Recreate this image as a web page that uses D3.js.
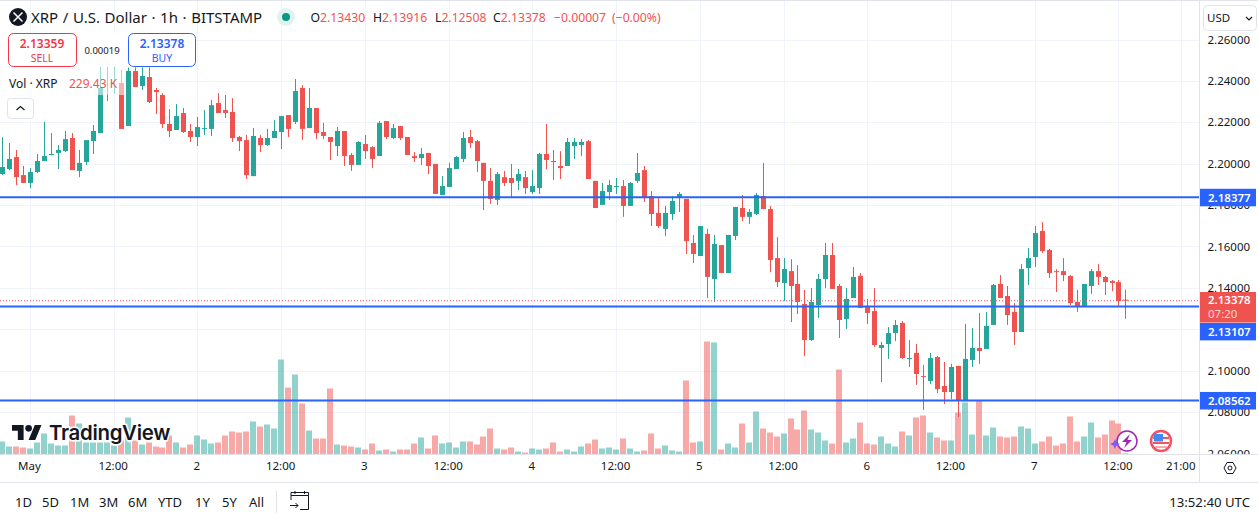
<!DOCTYPE html>
<html>
<head>
<meta charset="utf-8">
<script src="https://cdn.jsdelivr.net/npm/d3@7"></script>
<style>
  html, body { margin: 0; padding: 0; background: #fff; overflow: hidden; }
  text { font-family: "Noto Sans", sans-serif; }
</style>
</head>
<body>
<script>
// hourly candles, first one is Apr 30 20:00, last is May 7 13:00
var opens = [
  2.1950,2.1974,2.2032,2.1945,2.1907,2.1960,2.2013,2.2042,2.2052,2.2061,
  2.2124,2.1965,2.2008,2.2109,2.2148,2.2491,2.2501,2.2390,2.2182,2.2448,
  2.2375,2.2419,2.2356,2.2332,2.2192,2.2163,2.2245,2.2158,2.2129,2.2168,
  2.2168,2.2293,2.2259,2.2250,2.2129,2.2114,2.1940,2.2124,2.2090,2.2124,
  2.2153,2.2235,2.2202,2.2366,2.2172,2.2269,2.2153,2.2129,2.2085,2.2158,
  2.2042,2.1994,2.2095,2.2080,2.2037,2.2206,2.2124,2.2182,2.2129,2.2037,
  2.2027,2.2052,2.1999,2.1849,2.1887,2.1974,2.2023,2.2129,2.2109,2.2004,
  2.1917,2.1825,2.1935,2.1931,2.1917,2.1935,2.1863,2.1882,2.2047,2.2013,
  2.1989,2.1989,2.2085,2.2090,2.2109,2.1917,2.1801,2.1863,2.1887,2.1892,
  2.1796,2.1917,2.1969,2.1844,2.1762,2.1685,2.1757,2.1839,2.1830,2.1617,
  2.1554,2.1661,2.1443,2.1607,2.1472,2.1651,2.1786,2.1743,2.1757,2.1844,
  2.1781,2.1544,2.1424,2.1481,2.1419,2.1322,2.1148,2.1317,2.1443,2.1559,
  2.1409,2.1250,2.1351,2.1458,2.1313,2.1288,2.1110,2.1129,2.1182,2.1231,
  2.1056,2.1086,2.0974,2.0950,2.1066,2.0926,2.0897,2.1023,2.0853,2.1052,
  2.1110,2.1105,2.1221,2.1419,2.1361,2.1284,2.1187,2.1496,2.1549,2.1675,
  2.1583,2.1481,2.1481,2.1458,2.1332,2.1313,2.1409,2.1481,2.1453,2.1433,
  2.1428,2.13430
];
var highs = [
  2.2128,2.2100,2.2066,2.1989,2.1979,2.2047,2.2202,2.2148,2.2090,2.2158,
  2.2148,2.2066,2.2114,2.2187,2.2525,2.2573,2.2573,2.2453,2.2472,2.2467,
  2.2467,2.2467,2.2366,2.2341,2.2264,2.2288,2.2269,2.2192,2.2226,2.2259,
  2.2308,2.2341,2.2332,2.2317,2.2134,2.2139,2.2172,2.2139,2.2168,2.2211,
  2.2230,2.2235,2.2409,2.2380,2.2366,2.2269,2.2197,2.2129,2.2177,2.2158,
  2.2052,2.2109,2.2139,2.2085,2.2206,2.2206,2.2192,2.2182,2.2129,2.2056,
  2.2076,2.2052,2.1999,2.1940,2.2004,2.2037,2.2153,2.2163,2.2114,2.2004,
  2.1979,2.1960,2.1965,2.1999,2.1974,2.1965,2.1969,2.2052,2.2192,2.2066,
  2.2061,2.2124,2.2124,2.2119,2.2114,2.1917,2.1907,2.1921,2.1931,2.1921,
  2.1911,2.2052,2.1989,2.1868,2.1839,2.1796,2.1844,2.1863,2.1830,2.1655,
  2.1699,2.1685,2.1656,2.1607,2.1656,2.1791,2.1849,2.1781,2.1858,2.2004,
  2.1796,2.1645,2.1544,2.1539,2.1510,2.1390,2.1399,2.1467,2.1617,2.1617,
  2.1419,2.1399,2.1501,2.1472,2.1347,2.1399,2.1139,2.1211,2.1245,2.1240,
  2.1148,2.1129,2.1028,2.1086,2.1071,2.1042,2.1033,2.1023,2.1226,2.1206,
  2.1279,2.1284,2.1419,2.1462,2.1409,2.1327,2.1515,2.1593,2.1699,2.1718,
  2.1588,2.1491,2.1544,2.1462,2.1390,2.1419,2.1491,2.1515,2.1458,2.1438,
  2.1438,2.13916
];
var lows = [
  2.1945,2.1969,2.1897,2.1907,2.1882,2.1955,2.2013,2.2042,2.1974,2.2056,
  2.1969,2.1935,2.1994,2.2047,2.2148,2.2303,2.2337,2.2168,2.2182,2.2370,
  2.2356,2.2293,2.2240,2.2172,2.2129,2.2163,2.2148,2.2105,2.2085,2.2139,
  2.2134,2.2245,2.2221,2.2105,2.2061,2.1926,2.1940,2.2056,2.2085,2.2124,
  2.2071,2.2129,2.2192,2.2114,2.2172,2.2119,2.2119,2.2018,2.2037,2.1989,
  2.1965,2.1994,2.2023,2.1979,2.2037,2.2119,2.2119,2.2114,2.2042,2.2008,
  2.1994,2.1950,2.1854,2.1849,2.1887,2.1974,2.2008,2.2076,2.1960,2.1776,
  2.1806,2.1801,2.1892,2.1839,2.1873,2.1854,2.1854,2.1854,2.1974,2.1921,
  2.1926,2.1989,2.2023,2.2037,2.1926,2.1786,2.1801,2.1825,2.1854,2.1743,
  2.1796,2.1907,2.1815,2.1699,2.1690,2.1651,2.1728,2.1767,2.1564,2.1520,
  2.1554,2.1351,2.1332,2.1472,2.1472,2.1631,2.1723,2.1709,2.1752,2.1781,
  2.1476,2.1404,2.1337,2.1235,2.1274,2.1071,2.1143,2.1255,2.1399,2.1395,
  2.1158,2.1202,2.1351,2.1303,2.1226,2.1115,2.0945,2.1057,2.1143,2.1057,
  2.1018,2.0931,2.0810,2.0936,2.0892,2.0839,2.0863,2.0776,2.0853,2.1018,
  2.1033,2.1105,2.1221,2.1351,2.1221,2.1124,2.1187,2.1414,2.1501,2.1569,
  2.1448,2.1380,2.1433,2.1317,2.1284,2.1308,2.1371,2.1414,2.1366,2.1385,
  2.1313,2.12508
];
var closes = [
  2.1984,2.2023,2.1935,2.1907,2.1960,2.2013,2.2037,2.2047,2.2066,2.2119,
  2.1969,2.2004,2.2114,2.2158,2.2366,2.2549,2.2549,2.2168,2.2448,2.2370,
  2.2424,2.2298,2.2346,2.2192,2.2158,2.2230,2.2153,2.2129,2.2177,2.2172,
  2.2283,2.2245,2.2245,2.2124,2.2109,2.1945,2.2134,2.2090,2.2124,2.2158,
  2.2230,2.2168,2.2351,2.2168,2.2269,2.2148,2.2134,2.2105,2.2158,2.2037,
  2.1994,2.2105,2.2061,2.2023,2.2197,2.2129,2.2172,2.2124,2.2042,2.2027,
  2.2047,2.1989,2.1854,2.1892,2.1979,2.2032,2.2124,2.2100,2.2013,2.1917,
  2.1830,2.1950,2.1907,2.1907,2.1950,2.1882,2.1892,2.2047,2.2018,2.2008,
  2.1979,2.2105,2.2105,2.2105,2.1926,2.1786,2.1868,2.1897,2.1892,2.1796,
  2.1907,2.1955,2.1834,2.1757,2.1699,2.1762,2.1820,2.1854,2.1626,2.1564,
  2.1699,2.1453,2.1612,2.1472,2.1656,2.1791,2.1743,2.1767,2.1849,2.1781,
  2.1535,2.1428,2.1491,2.1409,2.1332,2.1148,2.1332,2.1443,2.1559,2.1395,
  2.1245,2.1347,2.1453,2.1303,2.1279,2.1124,2.1124,2.1182,2.1221,2.1061,
  2.1061,2.0984,2.0970,2.1061,2.0911,2.0897,2.1018,2.0858,2.1057,2.1110,
  2.1095,2.1216,2.1414,2.1351,2.1269,2.1187,2.1491,2.1544,2.1665,2.1578,
  2.1472,2.1477,2.1462,2.1327,2.1313,2.1419,2.1481,2.1453,2.1428,2.1424,
  2.1337,2.13378
];
// volume in millions of XRP
var volumes = [
  2.6,1.6,1.6,1.4,1.2,2.4,4.2,2.2,1.8,1.8,
  7.8,6.2,2.4,2.4,2.4,2.4,1.8,2.8,7.4,2.8,
  2.0,2.4,1.6,1.4,3.8,2.4,1.4,2.0,3.8,3.0,
  2.2,2.4,3.8,4.6,4.4,4.6,6.6,5.6,6.0,5.2,
  19.0,13.4,16.0,10.2,4.8,3.2,3.2,13.2,2.0,1.8,
  1.6,1.4,1.0,2.2,0.8,1.0,0.6,1.0,1.0,2.2,
  3.4,1.2,3.8,2.2,2.4,1.4,2.6,2.6,2.0,3.6,
  5.2,1.2,1.0,1.4,0.6,0.4,1.2,1.0,1.2,2.4,
  0.6,1.0,0.6,1.6,2.2,3.0,1.2,1.4,1.0,3.2,
  1.2,0.6,0.8,4.2,1.2,1.8,0.8,0.6,14.8,2.4,
  2.6,22.6,22.4,1.0,2.2,1.4,6.2,2.4,8.6,5.2,
  4.4,3.6,4.2,7.2,5.0,8.8,5.0,4.4,2.8,2.2,
  17.0,2.4,3.2,6.4,2.2,2.0,3.6,2.2,1.6,4.6,
  3.8,7.4,7.8,4.4,3.4,2.8,2.8,8.4,10.4,4.0,
  10.8,3.8,5.4,3.6,3.4,3.6,5.6,5.2,2.2,2.6,
  3.6,1.8,2.2,7.6,2.6,3.6,6.4,3.4,4.0,6.8,
  6.2,0.22943
];

var priceTicks = [2.26, 2.24, 2.22, 2.20, 2.18, 2.16, 2.14, 2.12, 2.10, 2.08, 2.06];
var levelLines = [2.18377, 2.13107, 2.08562];
var lastPrice = 2.13378;

// hours counted from the first candle
var timeTickHours = [4, 16, 28, 40, 52, 64, 76, 88, 100, 112, 124, 136, 148, 160, 169];
var timeTickLabels = ["May", "12:00", "2", "12:00", "3", "12:00", "4", "12:00", "5", "12:00", "6", "12:00", "7", "12:00", "21:00"];
var rangeButtons = ["1D", "5D", "1M", "3M", "6M", "YTD", "1Y", "5Y", "All"];
var rangeButtonX = [15, 42, 70, 99, 128, 158, 195, 222, 249];

var svgWidth = 1258;
var svgHeight = 517;
var paneRight = 1199;
var paneBottom = 454.5;

var upColor = "#26a69a";
var downColor = "#ef5350";
var blue = "#2962ff";
var gridColor = "#f0f3fa";
var borderColor = "#e0e3eb";
var textColor = "#131722";

var candles = opens.map(function(o, i) {
  return { i: i, open: o, high: highs[i], low: lows[i], close: closes[i], volume: volumes[i] };
});

var xScale = d3.scaleLinear().domain([0, 161]).range([2, 2 + 161 * 6.978]);
var yScale = d3.scaleLinear().domain([2.26, 2.06]).range([39.5, 453.5]);
var volScale = d3.scaleLinear().domain([0, 20]).range([paneBottom, paneBottom - 100]);

var svg = d3.select("body").append("svg")
  .attr("width", svgWidth)
  .attr("height", svgHeight)
  .style("display", "block");

svg.append("defs").append("clipPath").attr("id", "pane")
  .append("rect").attr("width", paneRight).attr("height", paneBottom);

var pane = svg.append("g").attr("clip-path", "url(#pane)");

// grid
pane.selectAll(".hgrid").data(priceTicks).enter().append("line")
  .attr("x1", 0).attr("x2", paneRight)
  .attr("y1", d => Math.round(yScale(d)) + 0.5).attr("y2", d => Math.round(yScale(d)) + 0.5)
  .attr("stroke", gridColor);
pane.selectAll(".vgrid").data(timeTickHours).enter().append("line")
  .attr("y1", 0).attr("y2", paneBottom)
  .attr("x1", d => Math.round(xScale(d)) + 0.5).attr("x2", d => Math.round(xScale(d)) + 0.5)
  .attr("stroke", gridColor);

// volume
pane.selectAll(".vol").data(candles).enter().append("rect")
  .attr("x", d => Math.round(xScale(d.i)) - 3)
  .attr("width", 6)
  .attr("y", d => volScale(d.volume))
  .attr("height", d => volScale(0) - volScale(d.volume))
  .attr("fill", d => d.close >= d.open ? upColor : downColor)
  .attr("fill-opacity", 0.5);

// candles
pane.selectAll(".wick").data(candles).enter().append("line")
  .attr("x1", d => Math.round(xScale(d.i)) + 0.5).attr("x2", d => Math.round(xScale(d.i)) + 0.5)
  .attr("y1", d => yScale(d.high)).attr("y2", d => yScale(d.low))
  .attr("stroke", d => d.close >= d.open ? upColor : downColor);
pane.selectAll(".body").data(candles).enter().append("rect")
  .attr("x", d => Math.round(xScale(d.i)) - 2)
  .attr("width", 5)
  .attr("y", d => yScale(Math.max(d.open, d.close)))
  .attr("height", d => Math.max(1, Math.abs(yScale(d.open) - yScale(d.close))))
  .attr("fill", d => d.close >= d.open ? upColor : downColor);

// horizontal levels and last price
pane.append("line")
  .attr("x1", 0).attr("x2", paneRight)
  .attr("y1", yScale(lastPrice)).attr("y2", yScale(lastPrice))
  .attr("stroke", downColor).attr("stroke-dasharray", "1 2");
pane.selectAll(".level").data(levelLines).enter().append("line")
  .attr("x1", 0).attr("x2", paneRight)
  .attr("y1", d => yScale(d)).attr("y2", d => yScale(d))
  .attr("stroke", blue).attr("stroke-width", 2);

// watermark
var mark = pane.append("g");
mark.append("path")
  .attr("transform", "translate(12,421.7) scale(0.83)")
  .attr("d", "M14 22H7V11H0V4h14v18zM28 22h-8l7.5-18h8L28 22z")
  .attr("fill", textColor);
mark.append("circle")
  .attr("transform", "translate(12,421.7) scale(0.83)")
  .attr("cx", 20).attr("cy", 8).attr("r", 4)
  .attr("fill", textColor);
mark.append("text")
  .attr("x", 49).attr("y", 440)
  .attr("font-size", 20.4).attr("font-weight", 600)
  .style("font-family", "Inter")
  .attr("letter-spacing", -0.3)
  .attr("fill", textColor)
  .attr("stroke", "#fff").attr("stroke-width", 3).attr("paint-order", "stroke")
  .text("TradingView");

// event icons
var bolt = pane.append("g").attr("transform", "translate(1127,441)");
bolt.append("circle").attr("r", 10).attr("fill", "#fff").attr("stroke", "#9c27b0").attr("stroke-width", 1.5);
bolt.append("path").attr("d", "M3 -7L-5 1H-0.5L-3 7L5 -1H0.5Z").attr("fill", "#9c27b0");
bolt.append("path").attr("d", "M-12 -2L-10.5 1.5L-7 3L-10.5 4.5L-12 8L-13.5 4.5L-17 3L-13.5 1.5Z").attr("fill", "#7b5cff");

var flag = pane.append("g").attr("transform", "translate(1161,441)");
flag.append("circle").attr("r", 10).attr("fill", "#fff").attr("stroke", "#f7525f").attr("stroke-width", 2.5);
flag.append("path").attr("d", "M-8 -4H8V-2H-8ZM-8 1H8V3H-8ZM-6 5.5H6V6.5H-6Z").attr("fill", "#f7525f");
flag.append("rect").attr("x", -7).attr("y", -7).attr("width", 9).attr("height", 7.5).attr("fill", "#3d8bf0");

// price axis
var priceAxis = svg.append("g").attr("transform", "translate(1199.5,0)");
priceAxis.call(d3.axisRight(yScale).tickValues(priceTicks).tickSize(0).tickPadding(8).tickFormat(d3.format(".5f")));
priceAxis.select(".domain").remove();
priceAxis.selectAll("text")
  .attr("fill", textColor)
  .style("font-family", "Noto Sans")
  .attr("font-size", 11.5);

// value labels on the price axis
var levelBoxes = svg.append("g");
levelBoxes.selectAll("rect").data(levelLines).enter().append("rect")
  .attr("x", 1200).attr("width", 56)
  .attr("y", d => d === 2.13107 ? yScale(2.13107) + 16.5 : yScale(d) - 8.5)
  .attr("height", 17.5)
  .attr("fill", blue);
levelBoxes.selectAll("text").data(levelLines).enter().append("text")
  .attr("x", 1208)
  .attr("y", d => d === 2.13107 ? yScale(2.13107) + 29.5 : yScale(d) + 4.5)
  .attr("font-size", 11.5).attr("font-weight", 600)
  .attr("fill", "#fff")
  .text(d => d3.format(".5f")(d));

svg.append("rect")
  .attr("x", 1200).attr("y", 292).attr("width", 56).attr("height", 30.5)
  .attr("fill", downColor);
svg.append("text")
  .attr("x", 1208).attr("y", 304)
  .attr("font-size", 11.5).attr("font-weight", 600).attr("fill", "#fff")
  .text(d3.format(".5f")(lastPrice));
svg.append("text")
  .attr("x", 1208).attr("y", 318)
  .attr("font-size", 11.5).attr("fill", "#fff").attr("fill-opacity", 0.75)
  .text("07:20");

// time axis
svg.append("rect").attr("y", paneBottom).attr("width", svgWidth).attr("height", svgHeight - paneBottom).attr("fill", "#fff");
var timeAxis = svg.append("g").attr("transform", "translate(-1,455)");
timeAxis.call(d3.axisBottom(xScale).tickValues(timeTickHours).tickSize(0).tickPadding(7)
  .tickFormat((d, i) => timeTickLabels[i]));
timeAxis.select(".domain").remove();
timeAxis.selectAll("text")
  .attr("fill", textColor)
  .style("font-family", "Noto Sans")
  .attr("font-size", 11.5);

// pane borders
svg.append("line").attr("x1", 0).attr("x2", svgWidth).attr("y1", 454.5).attr("y2", 454.5).attr("stroke", borderColor);
svg.append("line").attr("x1", 0).attr("x2", svgWidth).attr("y1", 482.5).attr("y2", 482.5).attr("stroke", borderColor);
svg.append("line").attr("x1", 1199.5).attr("x2", 1199.5).attr("y1", 0).attr("y2", 482).attr("stroke", borderColor);
svg.append("line").attr("x1", 0).attr("x2", svgWidth).attr("y1", 0.5).attr("y2", 0.5).attr("stroke", borderColor);

// axis settings button
svg.append("path")
  .attr("d", "M1224 468L1227 462.5H1233L1236 468L1233 473.5H1227Z")
  .attr("fill", "none").attr("stroke", textColor);
svg.append("circle").attr("cx", 1230).attr("cy", 468).attr("r", 2).attr("fill", "none").attr("stroke", textColor);

// currency button
svg.append("rect")
  .attr("x", 1203.5).attr("y", 5.5).attr("width", 53).attr("height", 25).attr("rx", 4)
  .attr("fill", "#fff").attr("stroke", borderColor);
svg.append("text").attr("x", 1207).attr("y", 22).attr("font-size", 11.5).attr("fill", textColor).text("USD");
svg.append("path").attr("d", "M1246 17L1249 20L1252 17").attr("fill", "none").attr("stroke", textColor).attr("stroke-width", 1.2);

// covers behind the legend rows
svg.append("rect").attr("x", 0).attr("y", 33).attr("width", 196).attr("height", 34.5).attr("fill", "#fff");
svg.append("rect").attr("x", 0).attr("y", 68).attr("width", 124).attr("height", 27).attr("fill", "#fff").attr("fill-opacity", 0.55);

// title row
svg.append("circle").attr("cx", 18).attr("cy", 17).attr("r", 9).attr("fill", "#131722");
svg.append("path").attr("d", "M13.5 12.5L22.5 21.5M22.5 12.5L13.5 21.5").attr("stroke", "#fff").attr("stroke-width", 1.5);
svg.append("text").attr("x", 31).attr("y", 22.5).attr("font-size", 15).attr("word-spacing", 0.7).attr("fill", textColor)
  .text("XRP / U.S. Dollar · 1h · BITSTAMP");
svg.append("circle").attr("cx", 286).attr("cy", 17).attr("r", 9).attr("fill", "#e0f3f0");
svg.append("circle").attr("cx", 286).attr("cy", 17).attr("r", 4).attr("fill", "#089981");

// OHLC values of the last candle
var ohlcLabels = ["O", "H", "L", "C"];
var ohlcValues = ["2.13430", "2.13916", "2.12508", "2.13378"];
var ohlcX = [310.5, 373, 435, 493];
svg.selectAll(".ohlc").data(ohlcLabels).enter().append("text")
  .attr("x", (d, i) => ohlcX[i]).attr("y", 21.5).attr("font-size", 12.2)
  .attr("fill", textColor)
  .text(d => d)
  .append("tspan").attr("fill", downColor).text((d, i) => ohlcValues[i]);
svg.append("text").attr("x", 554).attr("y", 21.5).attr("font-size", 12.2).attr("fill", downColor).text("−0.00007");
svg.append("text").attr("x", 612).attr("y", 21.5).attr("font-size", 12.2).attr("fill", downColor).text("(−0.00%)");

// sell / buy boxes
svg.append("rect").attr("x", 8.5).attr("y", 33.5).attr("width", 68).attr("height", 33).attr("rx", 5)
  .attr("fill", "#fff").attr("stroke", "#f23645");
svg.append("text").attr("x", 42).attr("y", 47.5).attr("text-anchor", "middle").attr("font-size", 12).attr("font-weight", 600)
  .attr("fill", "#f23645").text("2.13359");
svg.append("text").attr("x", 42).attr("y", 62).attr("text-anchor", "middle").attr("font-size", 10.5)
  .attr("fill", "#f23645").text("SELL");
svg.append("text").attr("x", 102).attr("y", 54).attr("text-anchor", "middle").attr("font-size", 9.5)
  .attr("fill", textColor).text("0.00019");
svg.append("rect").attr("x", 128.5).attr("y", 33.5).attr("width", 67).attr("height", 33).attr("rx", 5)
  .attr("fill", "#fff").attr("stroke", blue);
svg.append("text").attr("x", 162).attr("y", 47.5).attr("text-anchor", "middle").attr("font-size", 12).attr("font-weight", 600)
  .attr("fill", blue).text("2.13378");
svg.append("text").attr("x", 162).attr("y", 62).attr("text-anchor", "middle").attr("font-size", 10.5)
  .attr("fill", blue).text("BUY");

// volume legend
svg.append("text").attr("x", 9).attr("y", 88).attr("font-size", 12).attr("fill", textColor).text("Vol · XRP");
svg.append("text").attr("x", 69).attr("y", 88).attr("font-size", 12).attr("fill", downColor).text("229.43 K");

// collapse button
svg.append("rect").attr("x", 7.5).attr("y", 98.5).attr("width", 26).attr("height", 20).attr("rx", 3)
  .attr("fill", "#fff").attr("stroke", borderColor);
svg.append("path").attr("d", "M16.5 110L20.5 106.5L24.5 110").attr("fill", "none").attr("stroke", textColor).attr("stroke-width", 1.2);

// range buttons
svg.selectAll(".range").data(rangeButtons).enter().append("text")
  .attr("x", (d, i) => rangeButtonX[i]).attr("y", 506.5)
  .attr("font-size", 13).attr("fill", textColor)
  .text(d => d);
svg.append("line").attr("x1", 276.5).attr("x2", 276.5).attr("y1", 491).attr("y2", 513).attr("stroke", borderColor);

// go to date icon
svg.append("path")
  .attr("d", "M291 500V495.5H308.5V509.5H300M291 495.5V492.5H308.5V495.5M295 491V494M304.5 491V494M290 505.5H298M295.5 503L298 505.5L295.5 508")
  .attr("fill", "none").attr("stroke", textColor).attr("stroke-width", 1);

svg.append("text").attr("x", 1250).attr("y", 506.5).attr("text-anchor", "end")
  .attr("font-size", 13.2).attr("fill", textColor).text("13:52:40 UTC");
</script>
</body>
</html>
